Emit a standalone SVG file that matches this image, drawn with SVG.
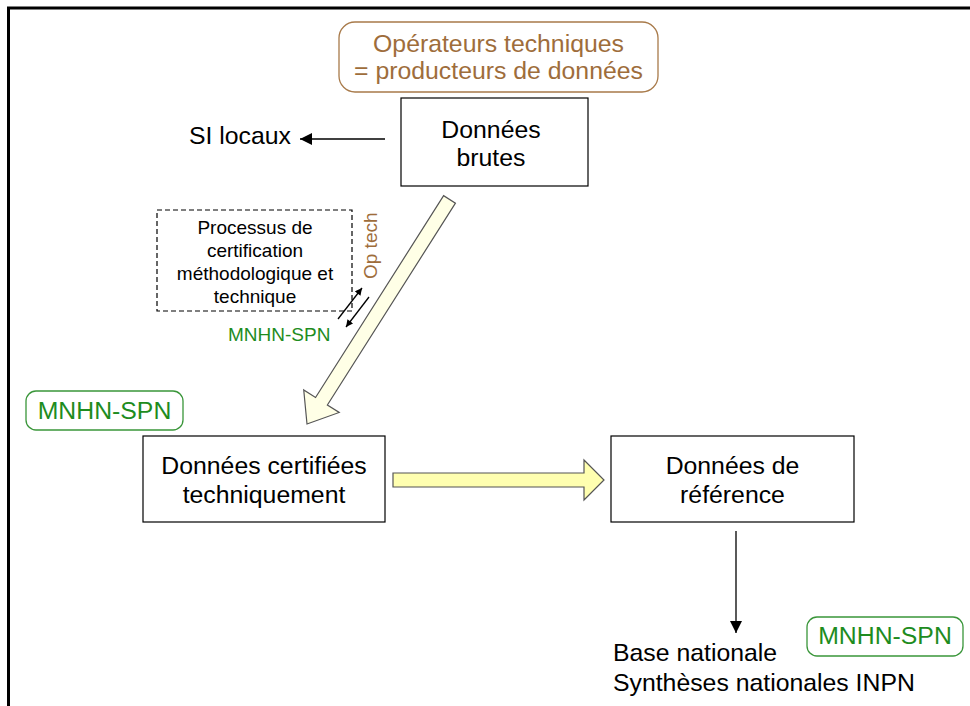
<svg xmlns="http://www.w3.org/2000/svg" width="970" height="706" viewBox="0 0 970 706">
<defs>
<style>
text{font-family:"Liberation Sans",Arial,sans-serif;fill:#000}
.t24{font-size:24.8px}
.t19{font-size:19px}
.brown{fill:#9E6D3B}
.green{fill:#1E8C1E}
.box{fill:#fff;stroke:#000;stroke-width:1.2}
.line{stroke:#000;stroke-width:1.3;fill:none}
.tag{fill:#fff;stroke:#3A963A;stroke-width:1.3}
</style>
<marker id="ah" viewBox="0 0 10 10" refX="10" refY="5" markerWidth="14" markerHeight="12" markerUnits="userSpaceOnUse" orient="auto">
<path d="M0,0 L10,5 L0,10 Z" fill="#000"/>
</marker>
<marker id="ahs" viewBox="0 0 10 10" refX="10" refY="5" markerWidth="8" markerHeight="7" markerUnits="userSpaceOnUse" orient="auto">
<path d="M0,0 L10,5 L0,10 Z" fill="#000"/>
</marker>
</defs>
<rect width="970" height="706" fill="#fff"/>
<path d="M8.5,706 V8 H970" fill="none" stroke="#000" stroke-width="3"/>

<g id="producteurs">
<rect x="339" y="22" width="319" height="70" rx="16" fill="#fff" stroke="#A87A4A" stroke-width="1.3"/>
<text class="t24 brown" x="498.5" y="52" text-anchor="middle">Opérateurs techniques</text>
<text class="t24 brown" x="498.5" y="79" text-anchor="middle">= producteurs de données</text>
</g>

<g id="brutes">
<rect class="box" x="401" y="98" width="187" height="88"/>
<text class="t24" x="491" y="138" text-anchor="middle">Données</text>
<text class="t24" x="491" y="166" text-anchor="middle">brutes</text>
</g>

<g id="silocaux">
<text class="t24" x="189" y="144">SI locaux</text>
</g>

<g id="processus">
<rect x="157" y="210" width="195" height="101" fill="#fff" stroke="#000" stroke-width="1.2" stroke-dasharray="5,3"/>
<text class="t19" x="255" y="234" text-anchor="middle">Processus de</text>
<text class="t19" x="255" y="257" text-anchor="middle">certification</text>
<text class="t19" x="255" y="280" text-anchor="middle">méthodologique et</text>
<text class="t19" x="255" y="303" text-anchor="middle">technique</text>
</g>

<g id="optech">
<text class="t19 brown" transform="translate(377,279) rotate(-90)">Op tech</text>
</g>

<g id="mnhn-small">
<text class="t19 green" x="228" y="341">MNHN-SPN</text>
</g>

<g id="mnhn1">
<rect class="tag" x="26" y="391" width="157" height="39" rx="10"/>
<text class="t24 green" x="104.5" y="418.5" text-anchor="middle">MNHN-SPN</text>
</g>

<g id="certifiees">
<rect class="box" x="143" y="436" width="242" height="86"/>
<text class="t24" x="264" y="474" text-anchor="middle">Données certifiées</text>
<text class="t24" x="264" y="503" text-anchor="middle">techniquement</text>
</g>

<g id="reference">
<rect class="box" x="611" y="436" width="243" height="86"/>
<text class="t24" x="732.5" y="474" text-anchor="middle">Données de</text>
<text class="t24" x="732.5" y="503" text-anchor="middle">référence</text>
</g>

<g id="base">
<text class="t24" x="613" y="661">Base nationale</text>
<text class="t24" x="613" y="691">Synthèses nationales INPN</text>
</g>

<g id="mnhn2">
<rect class="tag" x="807" y="617" width="156" height="39" rx="10"/>
<text class="t24 green" x="885" y="644" text-anchor="middle">MNHN-SPN</text>
</g>

<g id="connectors">
<line class="line" x1="385" y1="139" x2="300" y2="139" marker-end="url(#ah)"/>
<path d="M-266,-7 L-27,-7 L-27,-21 L0,0 L-27,21 L-27,7 L-266,7 Z" transform="translate(307,424) rotate(122.4)" fill="#FFFFE6" stroke="#555" stroke-width="1.2"/>
<path d="M393,473 H584 V460 L604,480 L584,500 V487 H393 Z" fill="#FFFFB0" stroke="#555" stroke-width="1.2"/>
<line class="line" x1="338" y1="319" x2="362" y2="288" marker-end="url(#ahs)"/>
<line class="line" x1="369" y1="297" x2="346" y2="327" marker-end="url(#ahs)"/>
<line class="line" x1="736" y1="531" x2="736" y2="633" marker-end="url(#ah)"/>
</g>
</svg>
